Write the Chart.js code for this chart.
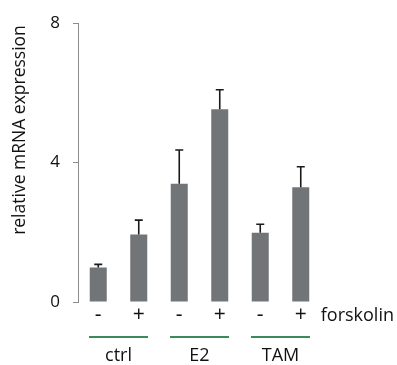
<!DOCTYPE html>
<html>
<head>
<meta charset="utf-8">
<script src="https://cdn.jsdelivr.net/npm/chart.js@4.4.1/dist/chart.umd.min.js"></script>
<style>
  html, body { margin: 0; padding: 0; background: #fff; }
  canvas { display: block; }
</style>
</head>
<body>
<canvas id="myChart" width="397" height="365"></canvas>
<script>
// forskolin -/+ for each treatment
const forskolin = ['-', '+', '-', '+', '-', '+'];
const groups = ['ctrl', 'E2', 'TAM'];
const means = [0.99, 1.94, 3.39, 5.53, 1.99, 3.29];
const errors = [0.09, 0.41, 0.97, 0.56, 0.24, 0.59];
const yTicks = [0, 4, 8];

const textColor = '#111111';
const fontFamily = '"Open Sans", "Liberation Sans", Arial, sans-serif';

// error bars (upward only), -/+ row, group lines and labels, y title
const extras = {
    id: 'extras',
    afterDatasetsDraw(chart) {
        const ctx = chart.ctx;
        const x = chart.scales.x;
        const y = chart.scales.y;
        ctx.save();
        ctx.strokeStyle = '#1a1a1a';
        ctx.lineWidth = 1.6;
        means.forEach((m, i) => {
            const cx = x.getPixelForValue(i);
            const top = y.getPixelForValue(m + errors[i]);
            const base = y.getPixelForValue(m);
            ctx.beginPath();
            ctx.moveTo(cx, base);
            ctx.lineTo(cx, top);
            ctx.moveTo(cx - 4, top);
            ctx.lineTo(cx + 4, top);
            ctx.stroke();
        });

        ctx.fillStyle = textColor;
        ctx.textBaseline = 'middle';
        ctx.textAlign = 'center';
        ctx.font = '21px ' + fontFamily;
        forskolin.forEach((s, i) => {
            ctx.fillText(s, x.getPixelForValue(i), 315);
        });
        ctx.font = '18px ' + fontFamily;
        ctx.textAlign = 'left';
        ctx.fillText('forskolin', x.getPixelForValue(5) + 20, 316);

        ctx.textAlign = 'center';
        groups.forEach((g, k) => {
            const mid = (x.getPixelForValue(2 * k) + x.getPixelForValue(2 * k + 1)) / 2;
            ctx.strokeStyle = '#3a8a5c';
            ctx.lineWidth = 2;
            ctx.beginPath();
            ctx.moveTo(mid - 29.5, 337);
            ctx.lineTo(mid + 29.5, 337);
            ctx.stroke();
            ctx.fillText(g, mid, 356);
        });

        ctx.translate(20, 130);
        ctx.rotate(-Math.PI / 2);
        ctx.font = '17.5px ' + fontFamily;
        ctx.fillText('relative mRNA expression', 0, 0);
        ctx.restore();
    }
};

new Chart(document.getElementById('myChart'), {
    type: 'bar',
    data: {
        labels: forskolin,
        datasets: [{
            data: means,
            backgroundColor: '#727578',
            borderWidth: 0,
            barPercentage: 0.42,
            categoryPercentage: 1.0
        }]
    },
    options: {
        responsive: false,
        animation: false,
        layout: { padding: { top: 16, right: 76, bottom: 0, left: 0 } },
        plugins: {
            legend: { display: false },
            tooltip: { enabled: false }
        },
        scales: {
            x: {
                grid: { display: false },
                border: { display: false },
                ticks: { display: false },
                afterFit(scale) { scale.height = 63; }
            },
            y: {
                min: 0,
                max: 8,
                afterBuildTicks(scale) { scale.ticks = yTicks.map(v => ({ value: v })); },
                grid: {
                    drawOnChartArea: false,
                    drawTicks: true,
                    tickLength: 5,
                    color: '#8c8c8c',
                    lineWidth: 1
                },
                border: { display: true, color: '#8c8c8c', width: 1 },
                ticks: {
                    color: textColor,
                    font: { family: fontFamily, size: 17 },
                    padding: 13
                },
                afterFit(scale) { scale.width = 78; }
            }
        }
    },
    plugins: [extras]
});
</script>
</body>
</html>
